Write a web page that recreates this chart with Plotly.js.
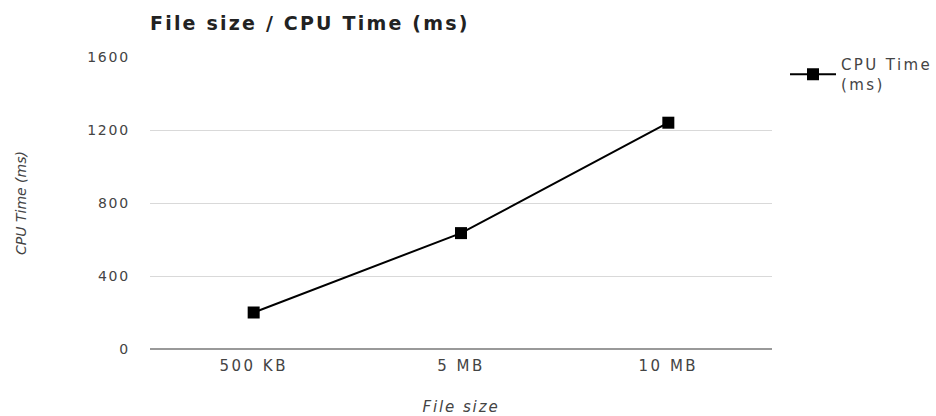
<!DOCTYPE html>
<html>
<head>
<meta charset="utf-8">
<script src="https://cdn.plot.ly/plotly-3.0.1.min.js"></script>
<style>
html,body{margin:0;padding:0;background:#fff;}
#chart{width:936px;height:416px;}
.gtitle{letter-spacing:2.2px;}
.xtick text{letter-spacing:2.5px;}
.ytick text{letter-spacing:1.8px;}
.legendtext{letter-spacing:2.4px;}
.xtitle{letter-spacing:1.9px;}
</style>
</head>
<body>
<div id="chart"></div>
<script>
const categories = ["500 KB", "5 MB", "10 MB"];
const cpuTime = [200, 635, 1240];
const yTicks = [0, 400, 800, 1200, 1600];
const seriesName = "CPU Time<br>(ms)";

const font = "DejaVu Sans, Liberation Sans, Arial, sans-serif";

const trace = {
  x: categories,
  y: cpuTime,
  type: "scatter",
  mode: "lines+markers",
  name: seriesName,
  line: {color: "#000", width: 2},
  marker: {symbol: "square", size: 12, color: "#000"},
  showlegend: true
};

const layout = {
  width: 936, height: 416,
  margin: {l: 150, r: 164, t: 57, b: 67, autoexpand: false},
  paper_bgcolor: "#fff", plot_bgcolor: "#fff",
  font: {family: font, color: "#444", size: 15},
  title: {
    text: "<b>File size / CPU Time (ms)</b>",
    font: {family: font, size: 19, color: "#222"},
    x: 150/936, xanchor: "left", xref: "container",
    y: 1 - 23/416, yanchor: "middle", yref: "container"
  },
  xaxis: {
    type: "category",
    range: [-0.5, 2.5],
    showgrid: false,
    showline: false,
    zeroline: false,
    ticks: "",
    ticklabelstandoff: 6,
    tickfont: {family: font, size: 15, color: "#444"},
    title: {text: "<i>File size</i>", font: {family: font, size: 15, color: "#444"}, standoff: 28}
  },
  yaxis: {
    range: [0, 1600],
    tickvals: yTicks,
    ticktext: yTicks.map(String),
    showgrid: true,
    gridcolor: "#d9d9d9",
    gridwidth: 1,
    zeroline: true,
    zerolinecolor: "#999",
    zerolinewidth: 2,
    showline: false,
    ticks: "",
    ticklabelstandoff: 19,
    tickfont: {family: font, size: 14, color: "#444"},
    title: {text: "<i>CPU Time (ms)</i>", font: {family: font, size: 14, color: "#444"}, standoff: 57}
  },
  legend: {
    x: (785-150)/622, xanchor: "left",
    y: 1.03, yanchor: "top",
    itemwidth: 46,
    font: {family: font, size: 15, color: "#444"},
    bgcolor: "rgba(0,0,0,0)",
    borderwidth: 0
  },
  showlegend: true
};

Plotly.newPlot("chart", [trace], layout, {displayModeBar: false, staticPlot: true});
</script>
</body>
</html>
